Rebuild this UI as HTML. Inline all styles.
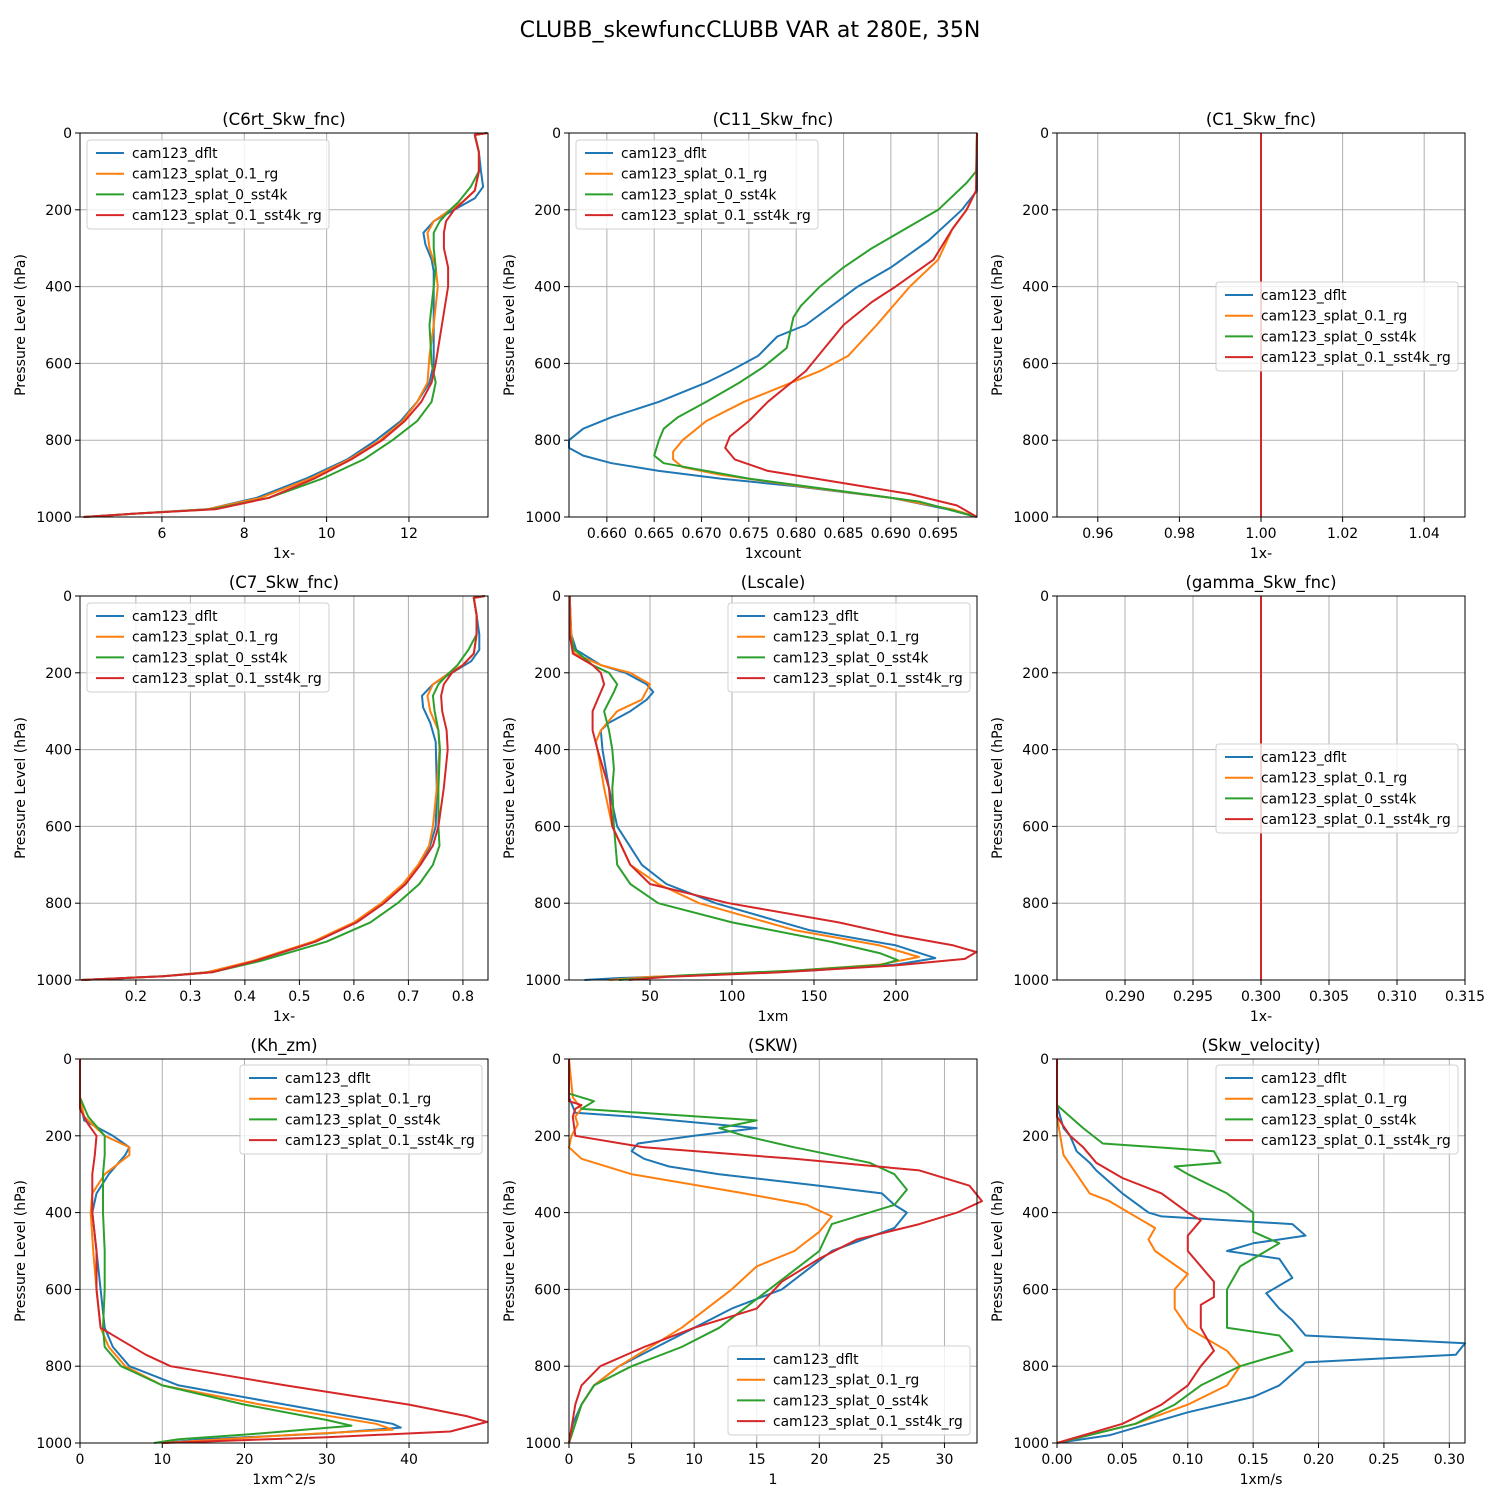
<!DOCTYPE html>
<html><head><meta charset="utf-8"><style>
body{margin:0;background:#fff;font-family:"Liberation Sans","DejaVu Sans",sans-serif}
svg text{font-family:"DejaVu Sans","Liberation Sans",sans-serif}
</style></head><body>
<svg id="fig" width="1500" height="1500" xmlns="http://www.w3.org/2000/svg">
<rect width="1500" height="1500" fill="#fff"/>
<text x="750" y="37" text-anchor="middle" font-size="22">CLUBB_skewfuncCLUBB VAR at 280E, 35N</text>
</svg>
<script>
const seriesNames = ["cam123_dflt","cam123_splat_0.1_rg","cam123_splat_0_sst4k","cam123_splat_0.1_sst4k_rg"];
const colors = ["#1f77b4","#ff7f0e","#2ca02c","#d62728"];
const pTicks = [0,200,400,600,800,1000];

const c6_b=[[0,13.9],[5,13.6],[50,13.7],[100,13.75],[140,13.8],[170,13.6],[200,13.1],[230,12.6],[260,12.35],[290,12.4],[330,12.55],[360,12.6],[400,12.6],[500,12.6],[600,12.6],[650,12.5],[700,12.2],[750,11.8],[800,11.2],[850,10.5],[900,9.5],[950,8.3],[980,7.1],[990,5.5],[1000,4.1]];
const c6_o=[[0,13.9],[5,13.6],[50,13.7],[100,13.7],[150,13.6],[180,13.3],[200,13.0],[230,12.6],[260,12.45],[300,12.5],[350,12.65],[400,12.7],[500,12.6],[580,12.5],[650,12.45],[700,12.2],[750,11.85],[800,11.3],[850,10.55],[900,9.6],[950,8.4],[980,7.1],[990,5.5],[1000,4.1]];
const c6_g=[[0,13.9],[5,13.6],[50,13.7],[100,13.7],[140,13.5],[180,13.2],[200,13.0],[230,12.75],[260,12.6],[300,12.6],[350,12.65],[400,12.6],[500,12.5],[600,12.55],[650,12.65],[700,12.55],[750,12.2],[800,11.6],[850,10.9],[900,9.9],[950,8.6],[980,7.2],[990,5.5],[1000,4.1]];
const c6_r=[[0,13.9],[5,13.6],[50,13.7],[100,13.7],[150,13.6],[180,13.3],[200,13.1],[230,12.9],[260,12.85],[300,12.85],[350,12.95],[400,12.95],[500,12.8],[600,12.65],[650,12.55],[700,12.3],[750,11.9],[800,11.35],[850,10.6],[900,9.7],[950,8.6],[980,7.3],[990,5.5],[1000,4.1]];

const c11_b=[[0,0.6991],[150,0.6991],[200,0.6975],[280,0.694],[350,0.690],[400,0.6865],[500,0.681],[530,0.678],[580,0.676],[620,0.673],[650,0.6705],[700,0.6655],[740,0.6605],[770,0.6575],[800,0.656],[820,0.656],[840,0.6575],[860,0.6605],[880,0.6655],[900,0.672],[920,0.680],[950,0.690],[980,0.696],[1000,0.6991]];
const c11_o=[[0,0.6991],[150,0.699],[200,0.698],[250,0.6965],[330,0.695],[400,0.692],[500,0.6885],[580,0.6855],[620,0.6825],[660,0.6785],[700,0.6745],[750,0.6705],[800,0.668],[830,0.667],[850,0.667],[870,0.668],[890,0.672],[920,0.6805],[950,0.690],[980,0.6965],[1000,0.6991]];
const c11_g=[[0,0.6991],[100,0.699],[130,0.698],[200,0.695],[250,0.6915],[300,0.688],[350,0.685],[400,0.6825],[450,0.6805],[480,0.6797],[560,0.679],[580,0.678],[610,0.6765],[650,0.674],[700,0.6705],[740,0.6675],[770,0.666],[800,0.6655],[840,0.665],[860,0.666],[900,0.675],[930,0.684],[960,0.693],[1000,0.6991]];
const c11_r=[[0,0.6991],[150,0.699],[200,0.698],[250,0.6965],[330,0.6945],[400,0.6905],[440,0.688],[500,0.685],[560,0.683],[620,0.681],[660,0.679],[700,0.677],[750,0.675],[790,0.673],[820,0.6725],[850,0.6735],[880,0.677],[910,0.6845],[940,0.692],[970,0.697],[1000,0.6991]];

const c1_all=[[0,1.0],[1000,1.0]];

const c7_b=[[0,0.84],[5,0.82],[50,0.825],[100,0.83],[140,0.83],[170,0.815],[200,0.78],[230,0.745],[260,0.725],[290,0.727],[330,0.74],[380,0.75],[500,0.752],[600,0.75],[650,0.74],[700,0.72],[750,0.695],[800,0.655],[850,0.605],[900,0.53],[950,0.42],[980,0.33],[990,0.25],[1000,0.1]];
const c7_o=[[0,0.84],[5,0.82],[50,0.825],[100,0.825],[150,0.82],[180,0.80],[200,0.775],[230,0.745],[260,0.735],[300,0.74],[350,0.755],[400,0.757],[500,0.752],[600,0.745],[650,0.738],[700,0.718],[750,0.69],[800,0.65],[850,0.60],[900,0.525],[950,0.415],[980,0.33],[990,0.25],[1000,0.1]];
const c7_g=[[0,0.84],[5,0.82],[50,0.825],[100,0.825],[140,0.81],[180,0.79],[200,0.775],[230,0.755],[260,0.745],[300,0.748],[350,0.755],[400,0.758],[500,0.755],[600,0.755],[650,0.757],[700,0.745],[750,0.72],[800,0.68],[850,0.63],[900,0.55],[950,0.43],[980,0.34],[990,0.25],[1000,0.1]];
const c7_r=[[0,0.84],[5,0.82],[50,0.825],[100,0.825],[150,0.82],[180,0.80],[200,0.78],[230,0.765],[260,0.76],[300,0.762],[350,0.77],[400,0.772],[500,0.765],[600,0.755],[650,0.745],[700,0.722],[750,0.695],[800,0.655],[850,0.605],[900,0.53],[950,0.42],[980,0.34],[990,0.25],[1000,0.1]];

const ls_b=[[0,1],[100,2],[140,5],[180,20],[200,35],[230,48],[250,52],[270,48],[300,38],[330,25],[350,20],[400,21],[500,25],[600,30],[700,45],[750,60],[800,90],[870,147],[910,200],[943,224],[960,200],[975,150],[988,80],[995,30],[1000,10]];
const ls_o=[[0,1],[100,2],[150,4],[180,20],[200,38],[230,50],[270,45],[300,30],[350,20],[380,17],[400,18],[500,22],[600,27],[700,38],[750,55],[800,80],[870,138],[910,190],[940,214],[960,190],[978,130],[992,50],[1000,25]];
const ls_g=[[0,1],[100,1],[140,4],[180,15],[200,25],[230,30],[250,28],[300,22],[350,25],[400,27],[450,28],[500,27],[600,28],[700,30],[750,38],[800,55],[850,100],[900,160],[930,190],[948,201],[961,191],[975,140],[988,70],[1000,31]];
const ls_r=[[0,1],[100,1],[150,3],[180,15],[200,20],[230,22],[250,20],[300,15],[350,15],[400,18],[500,25],[600,27],[700,38],[750,50],[800,98],[850,165],[883,200],[910,235],[927,249],[945,242],[962,200],[980,130],[992,60],[1000,37]];

const gm_all=[[0,0.3],[1000,0.3]];

const kh_b=[[0,0],[100,0],[160,0.5],[200,4],[230,6],[250,5.5],[300,3.5],[350,2],[400,1.5],[500,2],[600,2.5],[700,3],[750,4],[800,6],[850,12],[900,25],[950,38],[960,39],[975,30],[990,15],[1000,10]];
const kh_o=[[0,0],[100,0],[150,0.5],[200,3],[230,6],[250,6],[300,3],[350,1.5],[400,1.3],[500,1.6],[600,2],[700,2.5],[750,3.5],[800,5.5],[850,10],[900,22],[950,36],[965,38],[980,25],[1000,10]];
const kh_g=[[0,0],[100,0],[150,1],[200,3],[250,3],[300,2.8],[400,2.8],[500,3],[600,3],[700,2.8],[750,3],[800,5],[850,10],[900,20],[940,30],[955,33],[975,22],[990,12],[1000,9]];
const kh_r=[[0,0],[130,0],[170,1],[200,2],[250,1.8],[300,1.5],[400,1.5],[500,2],[600,2],[700,2.5],[770,8],[800,11],[850,25],[900,40],[930,47],[945,49.5],[970,45],[985,30],[1000,10]];

const skw_b=[[0,0],[100,0],[140,0.5],[150,5],[180,15],[200,10],[220,5.5],[240,5],[260,6],[280,8],[300,12],[330,20],[350,25],[380,26],[400,27],[440,26],[500,21],[550,19],[600,17],[650,13],[700,10],[750,7],[800,4],[850,2],[900,1],[950,0.3],[1000,0]];
const skw_o=[[0,0],[100,0.3],[130,1],[150,0.5],[170,0.7],[200,0.2],[230,0],[260,1],[300,5],[350,14],[380,19],[410,21],[450,20],[500,18],[540,15],[600,13],[700,9],[800,4],[850,2],[900,1],[1000,0]];
const skw_g=[[0,0],[90,0],[110,2],[130,1],[160,15],[180,12],[200,14],[230,18],[270,24],[300,26],[340,27],[380,26],[430,21],[500,20],[550,18],[600,16],[650,14],[700,12],[750,9],[800,5],[850,2],[900,1],[1000,0]];
const skw_r=[[0,0],[110,0],[120,1],[130,0.5],[150,0.3],[200,0.5],[230,6],[260,18],[290,28],[330,32],[370,33],[400,31],[430,28],[470,23],[520,20],[580,17],[650,15],[700,10],[750,6],[800,2.5],[850,1],[900,0.5],[1000,0]];

const sv_b=[[0,0],[120,0],[180,0.005],[200,0.01],[240,0.015],[270,0.025],[290,0.03],[350,0.05],[400,0.07],[410,0.08],[430,0.18],[460,0.19],[480,0.15],[500,0.13],[520,0.17],[570,0.18],[610,0.16],[650,0.17],[680,0.18],[720,0.19],[740,0.312],[770,0.305],[790,0.19],[820,0.18],[850,0.17],[880,0.15],[920,0.1],[950,0.07],[980,0.04],[1000,0]];
const sv_o=[[0,0],[150,0],[250,0.005],[300,0.015],[350,0.025],[370,0.04],[420,0.065],[440,0.075],[470,0.07],[500,0.075],[560,0.1],[600,0.09],[650,0.09],[700,0.1],[760,0.13],[800,0.14],[850,0.13],[900,0.1],[950,0.06],[1000,0]];
const sv_g=[[0,0],[120,0],[180,0.02],[220,0.035],[240,0.12],[270,0.125],[280,0.09],[300,0.1],[350,0.13],[400,0.15],[450,0.15],[480,0.17],[500,0.16],[540,0.14],[600,0.13],[700,0.13],[720,0.17],[760,0.18],[800,0.14],[850,0.11],[900,0.09],[950,0.06],[1000,0]];
const sv_r=[[0,0],[150,0],[200,0.01],[230,0.02],[270,0.03],[310,0.05],[350,0.08],[400,0.1],[420,0.11],[460,0.1],[500,0.1],[580,0.12],[620,0.12],[640,0.11],[700,0.11],[760,0.12],[800,0.11],[850,0.1],[900,0.08],[950,0.05],[1000,0]];

const NS="http://www.w3.org/2000/svg";
const svg=document.getElementById('fig');
function mk(tag,attrs,parent){const e=document.createElementNS(NS,tag);for(const k in attrs)e.setAttribute(k,attrs[k]);(parent||svg).appendChild(e);return e;}

function panel(c){
  const g=mk('g',{});
  
  
  const W=408,H=384;
  const xs=v=>c.x0+(v-c.xmin)/(c.xmax-c.xmin)*W;
  const ys=p=>c.y0+p/1000*H;
  for(const t of c.xt){const x=xs(t);mk('line',{x1:x,x2:x,y1:c.y0,y2:c.y0+H,stroke:'#b0b0b0','stroke-width':1},g);
    mk('line',{x1:x,x2:x,y1:c.y0+H,y2:c.y0+H+5,stroke:'#000'},g);
    const tx=mk('text',{x:x,y:c.y0+H+21,'text-anchor':'middle','font-size':14},g);tx.textContent=c.fmt(t);
    
    }
  for(const p of pTicks){const y=ys(p);mk('line',{x1:c.x0,x2:c.x0+W,y1:y,y2:y,stroke:'#b0b0b0','stroke-width':1},g);
    mk('line',{x1:c.x0-5,x2:c.x0,y1:y,y2:y,stroke:'#000'},g);
    const tx=mk('text',{x:c.x0-8,y:y+5,'text-anchor':'end','font-size':14},g);tx.textContent=p;
    
    }
  c.series.forEach((s,i)=>{
    const pl=mk('polyline',{points:s.map(d=>xs(d[1]).toFixed(1)+','+ys(d[0]).toFixed(1)).join(' '),fill:'none',stroke:colors[i],'stroke-width':2,'stroke-linejoin':'round'},g);
    
    
  });
  mk('rect',{x:c.x0,y:c.y0,width:W,height:H,fill:'none',stroke:'#000','stroke-width':1},g);
  const t=mk('text',{x:c.x0+W/2,y:c.y0-8,'text-anchor':'middle','font-size':16.5},g);t.textContent=c.title;
  
  
  const xl=mk('text',{x:c.x0+W/2,y:c.y0+H+41,'text-anchor':'middle','font-size':14},g);xl.textContent=c.xlabel;
  
  
  const yl=mk('text',{x:0,y:0,'text-anchor':'middle','font-size':14,transform:`translate(${c.x0-55},${c.y0+H/2}) rotate(-90)`},g);yl.textContent='Pressure Level (hPa)';
  
  
  const lg=mk('g',{},g);
  
  
  mk('rect',{x:c.lx,y:c.ly,width:242,height:89,rx:3,fill:'#fff','fill-opacity':0.8,stroke:'#d0d0d0'},lg);
  seriesNames.forEach((n,i)=>{const y=c.ly+13+i*20.7;
    mk('line',{x1:c.lx+9,x2:c.lx+37,y1:y,y2:y,stroke:colors[i],'stroke-width':2},lg);
    const tx=mk('text',{x:c.lx+45,y:y+5,'font-size':13.8},lg);tx.textContent=n;
    
    });
}
const f0=v=>String(v), f2=v=>v.toFixed(2), f3=v=>v.toFixed(3);
const X=[80,569,1057], Y=[133,596,1059];
panel({name:'c6rt',title:'(C6rt_Skw_fnc)',xlabel:'1x-',x0:X[0],y0:Y[0],xmin:4.01,xmax:13.92,xt:[6,8,10,12],fmt:f0,series:[c6_b,c6_o,c6_g,c6_r],lx:87,ly:140});
panel({name:'c11',title:'(C11_Skw_fnc)',xlabel:'1xcount',x0:X[1],y0:Y[0],xmin:0.656,xmax:0.6991,xt:[0.66,0.665,0.67,0.675,0.68,0.685,0.69,0.695],fmt:f3,series:[c11_b,c11_o,c11_g,c11_r],lx:576,ly:140});
panel({name:'c1',title:'(C1_Skw_fnc)',xlabel:'1x-',x0:X[2],y0:Y[0],xmin:0.95,xmax:1.05,xt:[0.96,0.98,1.0,1.02,1.04],fmt:f2,series:[c1_all,c1_all,c1_all,c1_all],lx:1216,ly:282});
panel({name:'c7',title:'(C7_Skw_fnc)',xlabel:'1x-',x0:X[0],y0:Y[1],xmin:0.0975,xmax:0.846,xt:[0.2,0.3,0.4,0.5,0.6,0.7,0.8],fmt:v=>v.toFixed(1),series:[c7_b,c7_o,c7_g,c7_r],lx:87,ly:603});
panel({name:'lscale',title:'(Lscale)',xlabel:'1xm',x0:X[1],y0:Y[1],xmin:0.6,xmax:249.4,xt:[50,100,150,200],fmt:f0,series:[ls_b,ls_o,ls_g,ls_r],lx:728,ly:603});
panel({name:'gamma',title:'(gamma_Skw_fnc)',xlabel:'1x-',x0:X[2],y0:Y[1],xmin:0.285,xmax:0.315,xt:[0.29,0.295,0.3,0.305,0.31,0.315],fmt:f3,series:[gm_all,gm_all,gm_all,gm_all],lx:1216,ly:744});
panel({name:'kh-zm',title:'(Kh_zm)',xlabel:'1xm^2/s',x0:X[0],y0:Y[2],xmin:0,xmax:49.6,xt:[0,10,20,30,40],fmt:f0,series:[kh_b,kh_o,kh_g,kh_r],lx:240,ly:1065});
panel({name:'skw',title:'(SKW)',xlabel:'1',x0:X[1],y0:Y[2],xmin:0,xmax:32.6,xt:[0,5,10,15,20,25,30],fmt:f0,series:[skw_b,skw_o,skw_g,skw_r],lx:728,ly:1346});
panel({name:'skw-velocity',title:'(Skw_velocity)',xlabel:'1xm/s',x0:X[2],y0:Y[2],xmin:0,xmax:0.312,xt:[0,0.05,0.1,0.15,0.2,0.25,0.3],fmt:f2,series:[sv_b,sv_o,sv_g,sv_r],lx:1216,ly:1065});
</script>
</body></html>
